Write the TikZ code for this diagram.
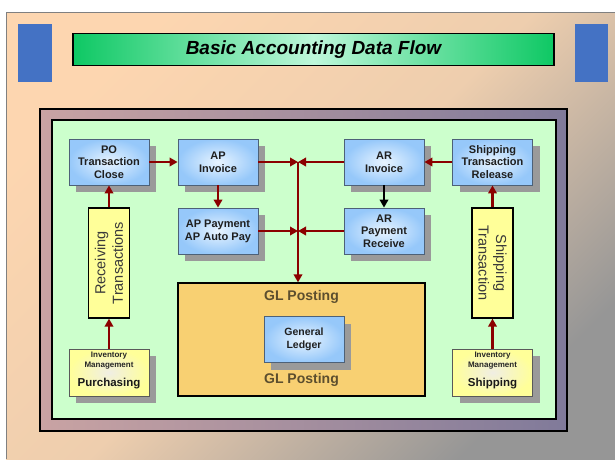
\documentclass[tikz,border=0pt]{standalone}
\usepackage{fontspec}
\setmainfont{Liberation Sans}
\usetikzlibrary{arrows.meta,shadows}

\definecolor{flowred}{RGB}{139,0,0}
\definecolor{boxblue}{RGB}{150,200,250}
\definecolor{boxblueglow}{RGB}{232,244,255}
\definecolor{boxedge}{RGB}{77,97,120}
\definecolor{lemon}{RGB}{255,255,153}
\definecolor{lemonglow}{RGB}{240,238,228}
\definecolor{glorange}{RGB}{248,208,114}
\definecolor{glfont}{RGB}{92,78,46}
\definecolor{mint}{RGB}{204,255,204}
\definecolor{peach}{RGB}{253,214,176}
\definecolor{peachmid}{RGB}{238,206,174}
\definecolor{slidegrey}{RGB}{150,150,150}
\definecolor{tabblue}{RGB}{68,114,196}
\definecolor{bargreen}{RGB}{14,200,100}
\definecolor{barlight}{RGB}{190,247,218}
\definecolor{framerose}{RGB}{201,163,163}
\definecolor{frameslate}{RGB}{128,122,154}
\definecolor{shadowgrey}{RGB}{154,154,154}
\definecolor{sidetext}{RGB}{58,58,58}

\tikzset{
  shadowed/.style={drop shadow={shadow xshift=7pt,shadow yshift=-7pt,fill=shadowgrey,opacity=1}},
  bluebox/.style={shadowed, draw=boxedge, line width=0.8pt,
    inner color=boxblueglow, outer color=boxblue,
    minimum width=80pt, minimum height=46pt, inner sep=0pt, align=center,
    font=\bfseries\fontsize{11}{12.7}\selectfont, text=black!88},
  sidebox/.style={draw=black, line width=1.3pt, fill=lemon,
    minimum width=110pt, minimum height=41pt, inner sep=0pt, align=center,
    font=\fontsize{14.5}{17.5}\selectfont, text=sidetext},
  srcbox/.style={shadowed, draw=black!65, line width=0.8pt,
    inner color=lemonglow, outer color=lemon,
    minimum width=80pt, minimum height=47pt, inner sep=0pt},
  smalltext/.style={font=\bfseries\fontsize{8}{9.5}\selectfont, text=black!85, align=center, inner sep=0pt},
  srctext/.style={font=\bfseries\fontsize{11.5}{13}\selectfont, text=black!90, inner sep=0pt},
  gltext/.style={font=\bfseries\fontsize{14}{16}\selectfont, text=glfont, inner sep=0pt},
  flow/.style={draw=flowred, line width=2.2pt, -{Triangle[length=8pt,width=8.5pt]}},
  flowplain/.style={draw=flowred, line width=2.2pt},
  blackflow/.style={draw=black, line width=2.2pt, -{Triangle[length=8pt,width=8.5pt]}}
}

\begin{document}
\begin{tikzpicture}[x=1pt,y=-1pt]
\useasboundingbox (0,0) rectangle (615,459);
\fill[white] (0,0) rectangle (615,459);

% slide background (middle color must come after the end colors)
\shade[top color=peach, bottom color=slidegrey, middle color=peachmid, shading angle=45]
  (6,12) rectangle (615,459);
\draw[draw=black!50, line width=0.8pt] (615,12) -- (6,12) -- (6,459);

% corner tabs
\fill[tabblue] (18,24) rectangle (52,82);
\fill[tabblue] (575,24) rectangle (608,82);

% title bar
\node[draw=black, line width=1.3pt, left color=bargreen, right color=bargreen, middle color=barlight,
      minimum width=481pt, minimum height=32pt, inner sep=0pt,
      font=\bfseries\itshape\fontsize{19}{22}\selectfont] (title) at (313.5,49.5)
      {Basic Accounting Data Flow};

% frame and working area
\shadedraw[left color=framerose, right color=frameslate, draw=black, line width=1.2pt]
  (40,109) rectangle (567,431);
\filldraw[fill=mint, draw=black, line width=1.2pt] (52,120) rectangle (556,419);

% GL posting area
\node[draw=black, line width=1.3pt, fill=glorange, minimum width=247pt, minimum height=113pt,
      inner sep=0pt] (gl) at (301.5,339.5) {};
\node[gltext] (gltop) at (301.5,297) {GL Posting};
\node[gltext] (glbot) at (301.5,380) {GL Posting};
\node[bluebox, font=\bfseries\fontsize{10.5}{13}\selectfont] (ledger) at (304,339.5) {General\\Ledger};

% transaction boxes
\node[bluebox] (po)     at (109,162)   {PO\\Transaction\\Close};
\node[bluebox] (apinv)  at (218,162)   {AP\\Invoice};
\node[bluebox] (appay)  at (218,231)   {AP Payment\\AP Auto Pay};
\node[bluebox] (arinv)  at (384,162)   {AR\\Invoice};
\node[bluebox] (arpay)  at (384,231)   {AR\\Payment\\Receive};
\node[bluebox] (shiprel) at (492.5,162) {Shipping\\Transaction\\Release};

% vertical transaction strips
\node[sidebox, rotate=90]  (recv)   at (109,263)   {Receiving\\Transactions};
\node[sidebox, rotate=-90] (shiptr) at (492.5,263) {Shipping\\Transaction};

% inventory sources
\node[srcbox] (purch) at (109,372.5) {};
\node[smalltext] (purchinv) at (109,360.5) {Inventory\\Management};
\node[srctext] (purchlbl) at (109,383.5) {Purchasing};
\node[srcbox] (ship) at (492.5,372.5) {};
\node[smalltext] (shipinv) at (492.5,360.5) {Inventory\\Management};
\node[srctext] (shiplbl) at (492.5,383.5) {Shipping};

% bus junctions
\coordinate (bustop) at (298,162);
\coordinate (busmid) at (298,231);

% connectors
\draw[flow] (purch) -- (recv);
\draw[flow] (recv) -- (po);
\draw[flow] (po) -- (apinv);
\draw[flow] (apinv) -- (appay);
\draw[flow] (ship) -- (shiptr);
\draw[flow] (shiptr) -- (shiprel);
\draw[flow] (shiprel) -- (arinv);
\draw[blackflow] (arinv) -- (arpay);
\draw[flowplain, -{Triangle[length=8pt,width=8.5pt]}] (bustop) -- (bustop |- gl.north);
\draw[flow] (apinv.east) -- (bustop);
\draw[flow] (arinv.west) -- (bustop);
\draw[flow] (appay.east) -- (busmid);
\draw[flow] (arpay.west) -- (busmid);
\end{tikzpicture}
\end{document}
